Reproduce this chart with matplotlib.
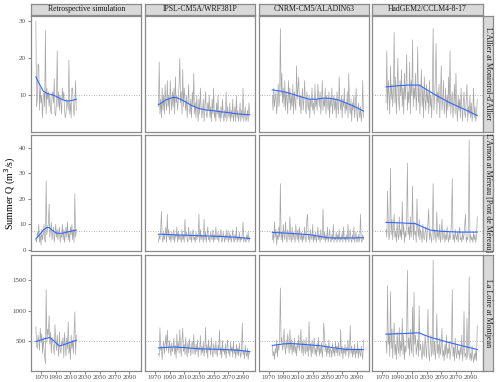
import numpy as np
import matplotlib.pyplot as plt

plt.rcParams['font.family'] = ['Liberation Serif', 'DejaVu Serif']

models = ["Retrospective simulation", "IPSL-CM5A/WRF381P",
          "CNRM-CM5/ALADIN63", "HadGEM2/CCLM4-8-17"]
rivers = ["L'Allier at Monistrol-d'Allier",
          "L'Arnon at Méreau [Pont de Méreau]",
          "La Loire at Montjean"]
retro_start = 1963
proj_start = 1975
x_ticks = [1970, 1990, 2010, 2030, 2050, 2070, 2090]
y_ticks = [[10, 20, 30], [0, 10, 20, 30, 40], [500, 1000, 1500]]
y_lims = [(0.3, 31.4), (-0.2, 45), (20, 1910)]
ref_level = [10, 7.4, 500]

# ---- L'Allier ----
allier_retro = [30, 7, 9, 18.5, 18, 6, 12, 8, 10, 4,
                9, 11, 7, 27.5, 5, 12, 9, 11, 7, 10,
                6, 5, 10, 11, 8, 14.5, 5, 4.5, 8, 22,
                7, 11, 6, 10, 8, 5, 12, 9, 11, 6,
                4, 5, 9, 8, 6, 19.5, 5, 8, 4, 12,
                12, 7, 4.5, 8, 14, 6]
allier_ipsl = [7, 19, 5, 9, 4, 12, 6, 10, 5, 13,
               8, 6, 14, 7, 10, 5, 14, 9, 6, 11,
               7, 12, 5, 15, 8, 10, 6, 9, 13, 20,
               8, 11, 5, 17, 7, 12, 9, 6, 10, 4,
               8, 13, 6, 5, 9, 4, 11, 7, 16, 5,
               8, 4, 10, 6, 3, 9, 5, 12, 7, 4,
               6, 9, 3, 7, 11, 5, 4, 8, 6, 10,
               4, 7, 3, 9, 5, 12, 4, 6, 3, 8,
               5, 10, 4, 6, 3, 7, 4, 9, 5, 3,
               6, 4, 11, 3, 7, 5, 4, 8, 3, 6,
               4, 9, 3, 5, 7, 3, 10, 4, 6, 3,
               5, 8, 3, 6, 4, 12, 3, 5, 7, 3,
               4, 6, 3, 8, 5]
allier_cnrm = [10, 6, 12, 7, 9, 11, 5, 8, 13, 7,
               9, 28, 10, 16, 8, 12, 7, 14, 6, 11,
               9, 5, 14, 8, 12, 6, 10, 7, 13, 5,
               11, 8, 6, 18, 9, 12, 15, 7, 10, 5,
               8, 12, 6, 9, 14, 7, 5, 11, 8, 6,
               10, 4, 9, 7, 12, 6, 8, 5, 13, 7,
               9, 6, 13, 10, 7, 11, 5, 8, 14, 6,
               9, 7, 12, 5, 10, 8, 6, 11, 4, 9,
               7, 12, 5, 8, 10, 6, 9, 4, 11, 7,
               5, 15, 8, 6, 10, 4, 9, 7, 12, 5,
               8, 6, 11, 4, 16, 7, 5, 9, 3, 8,
               6, 10, 4, 7, 12, 5, 3, 8, 6, 4,
               7, 3, 5, 14, 4]
allier_hadgem = [8, 22, 6, 14, 10, 5, 18, 9, 13, 7,
                 11, 27, 8, 15, 5, 12, 20, 9, 6, 14,
                 10, 17, 7, 12, 5, 16, 9, 13, 21, 6,
                 11, 8, 19, 5, 14, 10, 25, 7, 12, 9,
                 16, 6, 11, 23, 8, 13, 5, 10, 17, 7,
                 12, 4, 15, 9, 6, 13, 8, 11, 5, 14,
                 7, 10, 4, 12, 28, 6, 9, 15, 24, 5,
                 11, 8, 13, 4, 10, 18, 6, 9, 14, 5,
                 8, 12, 4, 10, 6, 15, 7, 22, 5, 9,
                 11, 4, 8, 13, 5, 16, 7, 3, 10, 6,
                 9, 4, 12, 7, 3, 8, 11, 5, 4, 9,
                 13, 3, 7, 5, 10, 4, 8, 3, 6, 12,
                 4, 7, 3, 5, 9]

# ---- L'Arnon ----
arnon_retro = [4, 3, 7, 5, 10, 3, 6, 2, 8, 4,
               6, 10, 4, 3, 27, 6, 9, 10, 18, 5,
               8, 11, 4, 7, 9, 3, 6, 10, 5, 8,
               4, 7, 9, 3, 6, 5, 10, 4, 8, 3,
               6, 9, 5, 11, 4, 7, 3, 9, 6, 10,
               4, 8, 3, 22, 5, 7]
arnon_ipsl = [3, 6, 4, 8, 15, 5, 3, 7, 4, 6,
              9, 3, 14, 5, 8, 4, 6, 3, 7, 5,
              4, 8, 3, 6, 5, 9, 3, 7, 4, 6,
              5, 3, 8, 4, 6, 3, 12, 5, 7, 4,
              3, 9, 5, 4, 7, 3, 6, 8, 4, 5,
              3, 7, 4, 6, 5, 14, 3, 8, 4, 6,
              5, 3, 12, 4, 7, 3, 6, 9, 4, 5,
              3, 7, 5, 4, 8, 3, 6, 4, 9, 5,
              4, 7, 3, 6, 5, 8, 3, 4, 7, 5,
              3, 6, 4, 8, 5, 3, 7, 4, 6, 3,
              5, 8, 4, 3, 6, 4, 9, 3, 5, 4,
              7, 3, 5, 4, 6, 11, 3, 5, 4, 3,
              6, 4, 7, 3, 5]
arnon_cnrm = [4, 7, 3, 11, 5, 8, 2, 6, 4, 9,
              5, 26, 4, 7, 3, 10, 6, 4, 11, 5,
              3, 8, 6, 4, 13, 5, 3, 9, 4, 7,
              5, 3, 10, 6, 4, 8, 3, 9, 5, 4,
              7, 3, 6, 4, 9, 5, 3, 12, 14, 4,
              6, 3, 8, 5, 4, 10, 3, 6, 4, 7,
              3, 5, 9, 4, 6, 3, 8, 4, 5, 16,
              4, 7, 3, 6, 4, 9, 3, 5, 8, 4,
              3, 6, 4, 10, 3, 5, 4, 7, 3, 6,
              4, 8, 3, 5, 4, 7, 3, 9, 4, 5,
              3, 6, 4, 10, 3, 5, 8, 4, 3, 6,
              4, 9, 3, 5, 7, 3, 4, 6, 3, 5,
              14, 4, 3, 6, 4]
arnon_hadgem = [8, 5, 23, 10, 4, 7, 32, 6, 12, 4,
                9, 14, 5, 7, 3, 11, 6, 4, 13, 5,
                8, 4, 19, 6, 10, 3, 7, 5, 12, 34,
                6, 9, 4, 13, 5, 8, 25, 4, 11, 6,
                7, 3, 20, 9, 5, 12, 4, 8, 6, 3,
                10, 5, 4, 7, 9, 3, 6, 11, 16, 4,
                7, 5, 3, 9, 26, 4, 8, 6, 3, 15,
                5, 7, 4, 10, 3, 6, 12, 4, 5, 8,
                3, 6, 4, 9, 5, 3, 7, 4, 6, 11,
                28, 4, 6, 3, 8, 5, 4, 7, 3, 6,
                9, 4, 5, 3, 7, 4, 6, 10, 14, 3,
                5, 4, 8, 43, 3, 6, 4, 5, 3, 7,
                4, 6, 3, 5, 13]

# ---- La Loire ----
loire_retro = [735, 420, 380, 600, 500, 350, 710, 480, 620, 300,
               560, 380, 250, 130, 1340, 480, 700, 600, 920, 450,
               650, 300, 560, 480, 400, 280, 770, 500, 350, 600,
               420, 250, 650, 380, 300, 500, 450, 560, 230, 640,
               420, 260, 550, 380, 820, 300, 460, 200, 600, 380,
               520, 300, 640, 980, 280, 600]
loire_ipsl = [300, 250, 720, 350, 420, 200, 380, 500, 290, 450,
              600, 350, 680, 420, 300, 510, 380, 260, 470, 330,
              400, 550, 280, 430, 220, 620, 350, 480, 300, 690,
              380, 250, 520, 710, 330, 450, 280, 560, 360, 240,
              470, 310, 540, 380, 260, 430, 500, 290, 610, 350,
              280, 450, 330, 520, 240, 400, 360, 590, 270, 420,
              310, 480, 250, 380, 726, 300, 440, 220, 520, 350,
              410, 270, 560, 330, 240, 460, 380, 290, 500, 320,
              250, 440, 350, 680, 280, 400, 230, 510, 330, 370,
              280, 460, 220, 390, 520, 300, 350, 250, 480, 330,
              410, 240, 500, 300, 360, 220, 450, 280, 390, 260,
              470, 310, 230, 400, 793, 280, 350, 210, 430, 300,
              250, 380, 200, 340, 290]
loire_cnrm = [420, 260, 330, 200, 380, 300, 520, 240, 450, 350,
              600, 1370, 480, 560, 350, 450, 700, 400, 290, 520,
              380, 620, 450, 300, 690, 360, 520, 280, 470, 330,
              550, 300, 420, 260, 480, 380, 600, 340, 450, 700,
              310, 480, 260, 520, 380, 290, 560, 330, 430, 250,
              818, 350, 460, 240, 520, 300, 420, 550, 280, 380,
              250, 470, 330, 560, 260, 400, 300, 480, 230, 370,
              800, 600, 330, 450, 250, 420, 300, 520, 240, 380,
              340, 230, 460, 300, 380, 250, 500, 310, 420, 260,
              480, 320, 250, 693, 300, 420, 210, 380, 300, 450,
              260, 400, 330, 520, 230, 350, 759, 300, 420, 240,
              380, 280, 450, 230, 350, 300, 480, 220, 380, 310,
              250, 420, 300, 200, 516]
loire_hadgem = [500, 300, 1407, 450, 620, 250, 1313, 380, 700, 220,
                550, 800, 280, 450, 200, 650, 400, 300, 720, 250,
                480, 350, 874, 280, 600, 200, 420, 320, 680, 1660,
                380, 550, 260, 700, 400, 300, 1056, 250, 1297, 450,
                600, 280, 400, 520, 250, 1078, 350, 450, 300, 200,
                480, 320, 250, 600, 400, 220, 550, 1023, 300, 180,
                420, 600, 250, 350, 1825, 280, 500, 200, 380, 946,
                300, 450, 220, 550, 280, 400, 710, 250, 350, 180,
                450, 280, 600, 220, 380, 300, 500, 200, 350, 420,
                1342, 250, 400, 180, 550, 300, 220, 450, 280, 350,
                200, 400, 280, 600, 180, 350, 984, 250, 300, 200,
                874, 230, 380, 1551, 200, 300, 180, 420, 250, 150,
                300, 200, 350, 180, 748]

# ---- smoothed trends (blue curves) ----
allier_retro_fit = ([1963, 1968, 1973, 1978, 1983, 1988, 1993, 1998, 2003, 2008, 2013, 2018],
                    [15, 13, 11.2, 10.5, 10.3, 10, 9.5, 9, 8.6, 8.5, 8.7, 9])
allier_ipsl_fit = ([1975, 1985, 1995, 2000, 2010, 2020, 2030, 2040, 2050, 2060, 2070, 2080, 2090, 2099],
                   [7.5, 8.8, 9.5, 9.4, 8.5, 7.3, 6.5, 6.1, 5.9, 5.6, 5.4, 5.1, 4.9, 4.8])
allier_cnrm_fit = ([1975, 1985, 1995, 2005, 2015, 2025, 2035, 2045, 2055, 2065, 2075, 2085, 2099],
                   [11.5, 11.2, 10.8, 10.2, 9.6, 9.0, 9.0, 9.3, 9.2, 8.8, 8.0, 7.2, 5.8])
allier_hadgem_fit = ([1975, 1990, 2005, 2020, 2040, 2060, 2080, 2099],
                     [12.3, 12.6, 12.8, 12.8, 10.4, 8.2, 6.4, 4.6])
arnon_retro_fit = ([1963, 1968, 1973, 1978, 1981, 1985, 1990, 1995, 2000, 2005, 2010, 2018],
                   [4.3, 6, 7.8, 8.8, 8.8, 7.8, 6.7, 6.5, 6.6, 7, 7.3, 7.8])
arnon_ipsl_fit = ([1975, 2000, 2030, 2060, 2080, 2099],
                  [6.2, 5.9, 5.6, 5.3, 5.0, 4.5])
arnon_cnrm_fit = ([1975, 2000, 2025, 2040, 2050, 2060, 2080, 2099],
                  [6.9, 6.5, 6.0, 5.3, 4.8, 4.7, 4.7, 4.8])
arnon_hadgem_fit = ([1975, 1995, 2015, 2025, 2035, 2050, 2075, 2099],
                    [10.8, 10.6, 10.3, 9, 7.8, 7.3, 7.0, 7.0])
loire_retro_fit = ([1963, 1970, 1975, 1982, 1988, 1995, 2000, 2010, 2018],
                   [495, 520, 540, 560, 500, 420, 440, 480, 515])
loire_ipsl_fit = ([1975, 1995, 2010, 2030, 2060, 2080, 2099],
                  [390, 405, 395, 375, 365, 355, 330])
loire_cnrm_fit = ([1975, 1990, 2000, 2020, 2040, 2060, 2075, 2099],
                  [430, 455, 462, 445, 425, 390, 365, 362])
loire_hadgem_fit = ([1975, 2000, 2020, 2025, 2035, 2060, 2099],
                    [615, 625, 637, 610, 565, 480, 363])

series = [[allier_retro, allier_ipsl, allier_cnrm, allier_hadgem],
          [arnon_retro, arnon_ipsl, arnon_cnrm, arnon_hadgem],
          [loire_retro, loire_ipsl, loire_cnrm, loire_hadgem]]
fits = [[allier_retro_fit, allier_ipsl_fit, allier_cnrm_fit, allier_hadgem_fit],
        [arnon_retro_fit, arnon_ipsl_fit, arnon_cnrm_fit, arnon_hadgem_fit],
        [loire_retro_fit, loire_ipsl_fit, loire_cnrm_fit, loire_hadgem_fit]]

W, H = 500, 382
fig = plt.figure(figsize=(W / 100, H / 100), dpi=100)

# panel layout in pixels
col_left = [31, 144.8, 258.6, 372.4]
col_w = 110.3
row_top = [16, 135, 255]
row_h = 115.5
border = '#8a8a8a'

def px_axes(x0, y0, w, h):
    return fig.add_axes([x0 / W, 1 - (y0 + h) / H, w / W, h / H])

for r in range(3):
    for c in range(4):
        ax = px_axes(col_left[c], row_top[r], col_w, row_h)
        vals = series[r][c]
        start = retro_start if c == 0 else proj_start
        yrs = np.arange(start, start + len(vals))
        ax.plot(yrs, vals, color='#a6a6a6', lw=0.5)
        ax.axhline(ref_level[r], color='#9a9a9a', lw=0.6, ls=(0, (1, 2)))
        fx, fy = fits[r][c]
        ax.plot(fx, fy, color='#3366FF', lw=0.8)
        ax.set_xlim(1956.4, 2106.4)
        ax.set_ylim(*y_lims[r])
        ax.set_xticks(x_ticks)
        ax.set_yticks(y_ticks[r])
        for s in ax.spines.values():
            s.set_color(border)
            s.set_linewidth(0.9)
        ax.tick_params(length=2, width=0.5, color='#555555', labelsize=5,
                       labelcolor='#4d4d4d', pad=1.5)
        if c != 0:
            ax.set_yticklabels([])
            ax.tick_params(axis='y', length=0)
        if r != 2:
            ax.set_xticklabels([])
            ax.tick_params(axis='x', length=0)

# top strips
for c in range(4):
    sx = px_axes(col_left[c], 3.5, col_w, 11.5)
    sx.set_facecolor('#d9d9d9')
    sx.set_xticks([])
    sx.set_yticks([])
    for s in sx.spines.values():
        s.set_color(border)
        s.set_linewidth(0.9)
    sx.text(0.5, 0.5, models[c], ha='center', va='center', fontsize=5.6,
            color='#1a1a1a', transform=sx.transAxes)

# right strips
for r in range(3):
    sx = px_axes(482.7, row_top[r], 10, row_h)
    sx.set_facecolor('#d9d9d9')
    sx.set_xticks([])
    sx.set_yticks([])
    for s in sx.spines.values():
        s.set_color(border)
        s.set_linewidth(0.9)
    sx.text(0.5, 0.5, rivers[r], ha='center', va='center', fontsize=5.8,
            rotation=-90, color='#1a1a1a', transform=sx.transAxes)

fig.text(10 / W, 1 - 193 / H, 'Summer Q (m$^3$/s)', rotation=90,
         ha='center', va='center', fontsize=7.2)

fig.savefig('out.png', dpi=100)
